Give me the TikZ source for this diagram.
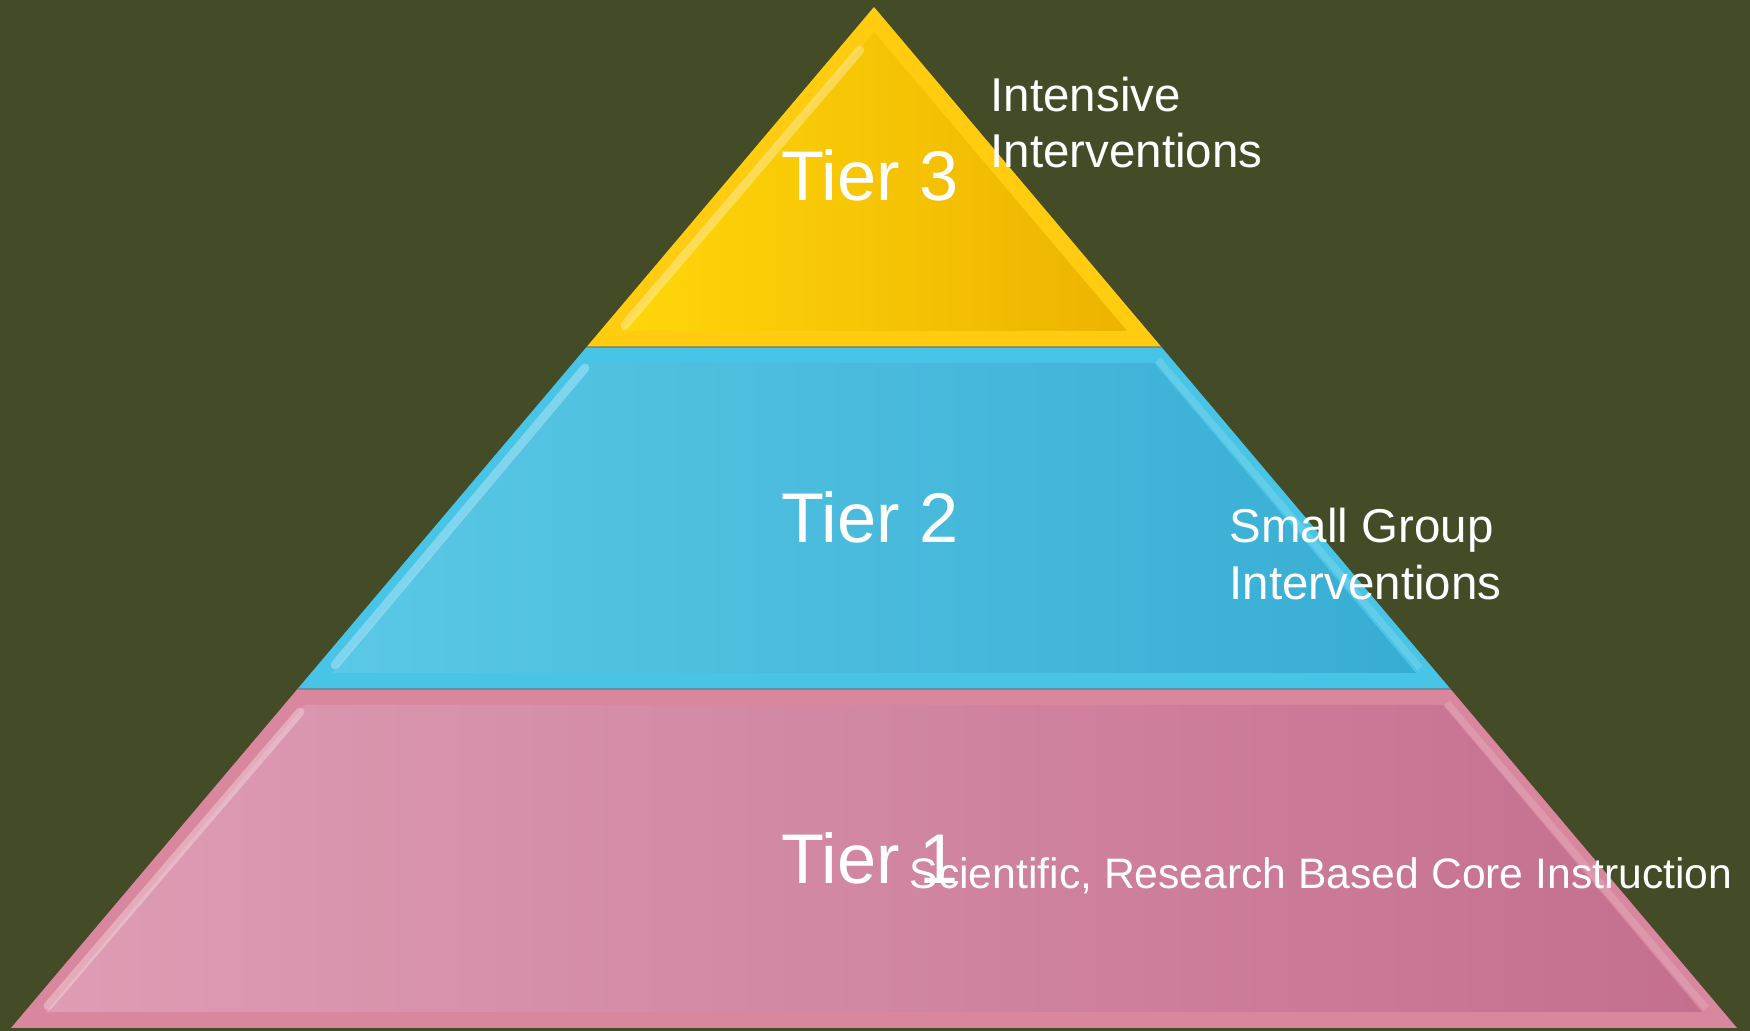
\documentclass[tikz,border=0pt]{standalone}
\usepackage{fontspec}
\setmainfont{Liberation Sans}
\begin{document}
\begin{tikzpicture}[x=0.01cm,y=-0.01cm,
  tiertxt/.style={text=white,inner sep=0pt,font=\fontsize{20}{24}\selectfont},
  sidetxt/.style={text=white,inner sep=0pt,align=left,font=\fontsize{13.5}{16.8}\selectfont},
  hl/.style={white,opacity=0.3,line width=2.5pt,line cap=round},
  sep/.style={black!60,opacity=0.5,line width=0.8pt}]
\definecolor{bg}{HTML}{434B27}
\definecolor{yL}{HTML}{FFD60A}\definecolor{yR}{HTML}{EDB300}\definecolor{yB}{HTML}{FFCC10}
\definecolor{bL}{HTML}{5AC8E6}\definecolor{bR}{HTML}{38ADD3}\definecolor{bB}{HTML}{48C4E6}
\definecolor{pL}{HTML}{DE9DB4}\definecolor{pR}{HTML}{C46F8E}\definecolor{pB}{HTML}{D9879F}
\fill[bg] (0,0) rectangle (1750,1031);
\useasboundingbox (0,0) rectangle (1750,1031);
% Tier 3
\fill[yB] (874,7) -- (1161.4,347) -- (586.6,347) -- cycle;
\shade[left color=yL,right color=yR] (874,32) -- (1127,331) -- (621,331) -- cycle;
\draw[hl] (860,50) -- (625,325);
% Tier 2
\fill[bB] (586.6,347) -- (1161.4,347) -- (1450.5,689) -- (297.5,689) -- cycle;
\shade[left color=bL,right color=bR] (594,363) -- (1154,363) -- (1416,673) -- (332,673) -- cycle;
\draw[hl] (585,368) -- (335,665);
\draw[white,opacity=0.15,line width=2pt] (1158,360) -- (1420,668);
% Tier 1
\fill[pB] (297.5,689) -- (1450.5,689) -- (1737,1028) -- (11,1028) -- cycle;
\shade[left color=pL,right color=pR] (305,705) -- (1443,705) -- (1702,1012) -- (46,1012) -- cycle;
\draw[hl] (300,712) -- (48,1006);
\draw[white,opacity=0.15,line width=2pt] (1447,703) -- (1706,1008);
% separators
\draw[sep] (586.6,347) -- (1161.4,347);
\draw[sep] (297.5,689) -- (1450.5,689);
% texts
\node[tiertxt,anchor=base] (t3) at (870,201) {Tier 3};
\node[tiertxt,anchor=base] (t2) at (870,543) {Tier 2};
\node[tiertxt,anchor=base] (t1) at (870,884) {Tier 1};
\node[sidetxt,anchor=base west] (s3a) at (990,112) {Intensive};
\node[sidetxt,anchor=base west] (s3b) at (990,168) {Interventions};
\node[sidetxt,anchor=base west] (s2a) at (1229,543) {Small Group};
\node[sidetxt,anchor=base west] (s2b) at (1229,600) {Interventions};
\node[sidetxt,anchor=base west,font=\fontsize{12.13}{15}\selectfont] (s1) at (909,889) {Scientific, Research Based Core Instruction};
\end{tikzpicture}
\end{document}
